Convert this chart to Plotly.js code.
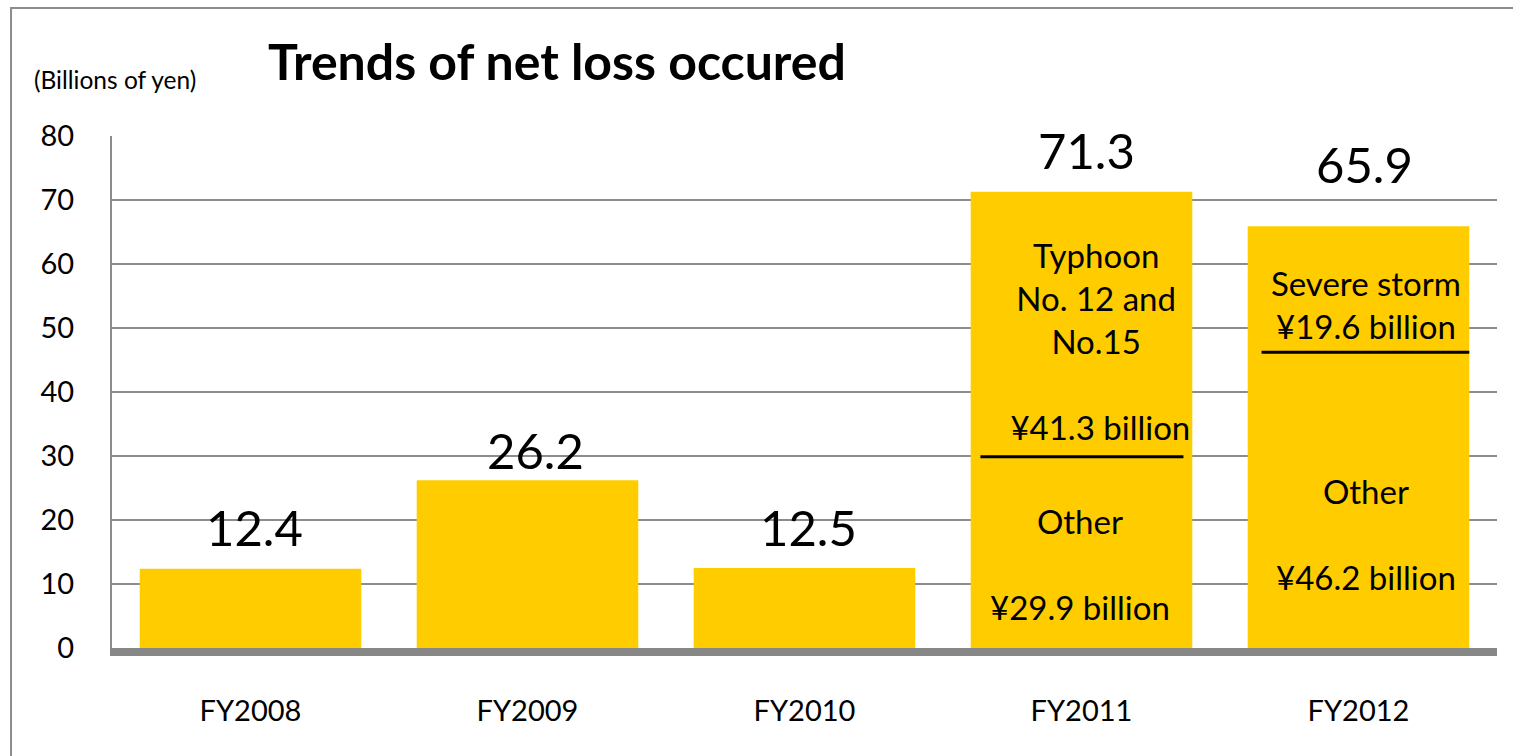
<!DOCTYPE html>
<html>
<head>
<meta charset="utf-8">
<script src="https://cdn.plot.ly/plotly-3.0.1.min.js"></script>
<style>html,body{margin:0;padding:0;background:#fff;}#chart{width:1513px;height:756px;}</style>
</head>
<body>
<div id="chart"></div>
<script>
// ---- data ----
const years = ['FY2008', 'FY2009', 'FY2010', 'FY2011', 'FY2012'];
const totals = [12.4, 26.2, 12.5, 71.3, 65.9];
const otherLoss = [null, null, null, 29.9, 46.2];
const eventLoss = [null, null, null, 41.3, 19.6];
const eventNames = [null, null, null, 'Typhoon<br>No. 12 and<br>No.15<br>', 'Severe storm'];
const yTicks = [0, 10, 20, 30, 40, 50, 60, 70, 80];

// ---- styling (not data) ----
const FONT = 'Lato, "Open Sans", sans-serif';
const BAR = '#FFCC00';
const GRID = '#8c8c8c';
const valueShift = [42, 30, 41, 42, 62];       // px above bar top for value labels
const valueXShift = [4, 8, 4, 5, 6];
const topFrac = [0, 0, 0, 0.436, 0.38];        // vertical place of event text inside its segment
const topXShift = [0, 0, 0, 14, 7];
const lowFrac = [0, 0, 0, 0.44, 0.384];
const lowXShift = [0, 0, 0, -2, 7];
const lineSpan = [null, null, null, [-0.365, 0.368], [-0.35, 0.40]];

const annotations = [];
const shapes = [];

years.forEach((yr, i) => {
  annotations.push({
    x: yr, y: totals[i], xref: 'x', yref: 'y',
    text: totals[i].toFixed(1), showarrow: false,
    yanchor: 'middle', yshift: valueShift[i], xshift: valueXShift[i],
    font: {family: FONT, size: 49, color: '#000'}
  });
  if (otherLoss[i] !== null) {
    const o = otherLoss[i], e = eventLoss[i];
    annotations.push({
      x: yr, y: o + e * topFrac[i], xref: 'x', yref: 'y',
      text: eventNames[i] + '<br>' + (i === 3 ? ' ' : '') + '¥' + e.toFixed(1) + ' billion',
      showarrow: false, yanchor: 'middle', xshift: topXShift[i],
      font: {family: FONT, size: 33, color: '#000'}
    });
    annotations.push({
      x: yr, y: o * lowFrac[i], xref: 'x', yref: 'y',
      text: 'Other<br><br>¥' + o.toFixed(1) + ' billion',
      showarrow: false, yanchor: 'middle', xshift: lowXShift[i],
      font: {family: FONT, size: 33, color: '#000'}
    });
    shapes.push({
      type: 'line', xref: 'x', yref: 'y',
      x0: i + lineSpan[i][0], x1: i + lineSpan[i][1], y0: o, y1: o,
      line: {color: '#000', width: 3}
    });
  }
});

annotations.push({
  xref: 'paper', yref: 'paper', x: -0.058, y: 1.11, xanchor: 'left', yanchor: 'middle',
  text: '(Billions of yen)', showarrow: false,
  font: {family: FONT, size: 24.5, color: '#000'}
});

// outer frame
shapes.push({
  type: 'rect', xref: 'paper', yref: 'paper',
  x0: -0.0729, x1: 1.05, y0: -0.25, y1: 1.25,
  line: {color: GRID, width: 2}, fillcolor: 'rgba(0,0,0,0)', layer: 'below'
});

const trace = {
  type: 'bar', x: years, y: totals,
  marker: {color: BAR, line: {width: 0}},
  width: 0.8, hoverinfo: 'x+y'
};

const layout = {
  width: 1513, height: 756,
  margin: {l: 112, r: 16, t: 136, b: 108},
  paper_bgcolor: '#fff', plot_bgcolor: '#fff',
  showlegend: false,
  title: {
    text: '<b>Trends of net loss occured</b>',
    xref: 'container', yref: 'container', x: 268 / 1513, xanchor: 'left',
    y: 1 - 62 / 756, yanchor: 'middle',
    font: {family: FONT, size: 50, color: '#000'}
  },
  xaxis: {
    type: 'category', range: [-0.5, 4.5],
    showline: true, linecolor: '#878787', linewidth: 8,
    showgrid: false, zeroline: false, ticks: '',
    ticklabelstandoff: 30,
    tickfont: {family: FONT, size: 29, color: '#000'}
  },
  yaxis: {
    range: [0, 80], tickvals: yTicks,
    showline: true, linecolor: GRID, linewidth: 2,
    showgrid: true, gridcolor: GRID, gridwidth: 2, zeroline: false,
    ticks: '', ticklabelstandoff: 30,
    tickfont: {family: FONT, size: 29, color: '#000'}
  },
  annotations: annotations,
  shapes: shapes
};

Plotly.newPlot('chart', [trace], layout, {displayModeBar: false, staticPlot: true});
</script>
</body>
</html>
